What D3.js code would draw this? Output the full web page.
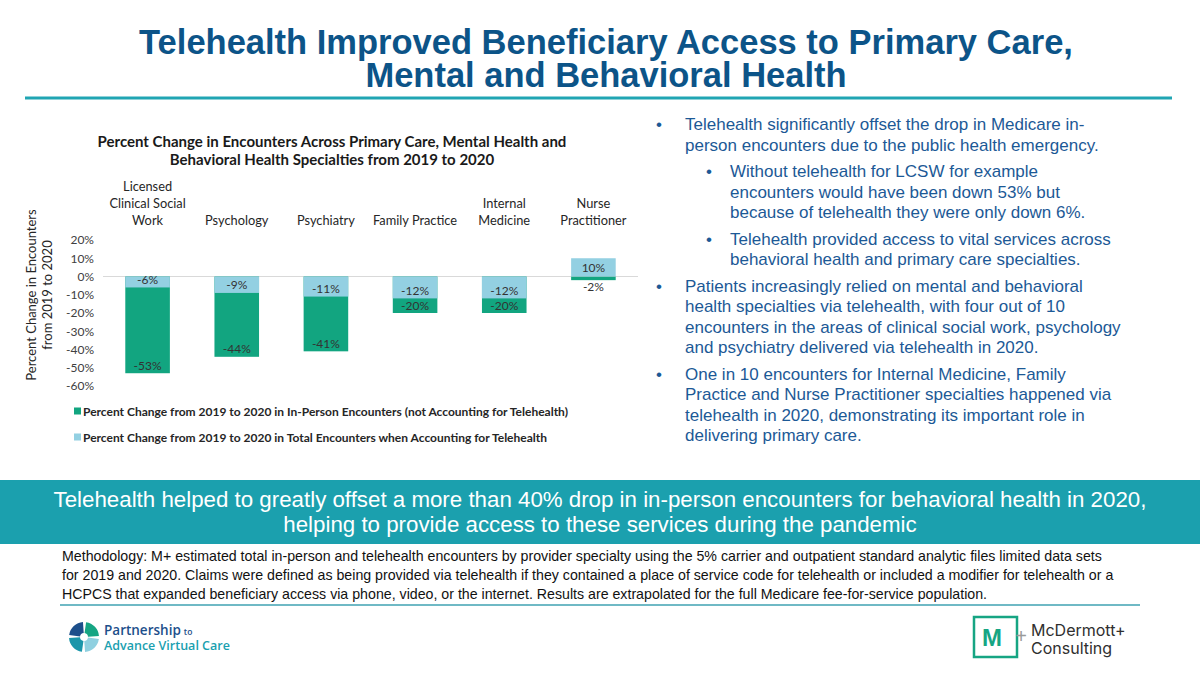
<!DOCTYPE html>
<html>
<head>
<meta charset="utf-8">
<style>
  body { margin: 0; background: #fff; }
  svg { display: block; }
</style>
<script src="https://cdn.jsdelivr.net/npm/d3@7"></script>
</head>
<body>
<svg id="slide" width="1200" height="675"></svg>
<script>
// ---- data ----
var categories = ["Licensed Clinical Social Work", "Psychology", "Psychiatry", "Family Practice", "Internal Medicine", "Nurse Practitioner"];
var categoryLines = [["Licensed", "Clinical Social", "Work"], ["Psychology"], ["Psychiatry"], ["Family Practice"], ["Internal", "Medicine"], ["Nurse", "Practitioner"]];
var inPerson = [-53, -44, -41, -20, -20, -2];   // in-person only
var totalEnc = [-6, -9, -11, -12, -12, 10];     // total incl. telehealth
var yTicks = [20, 10, 0, -10, -20, -30, -40, -50, -60];
var seriesNames = ["Percent Change from 2019 to 2020 in In-Person Encounters (not Accounting for Telehealth)",
                   "Percent Change from 2019 to 2020 in Total Encounters when Accounting for Telehealth"];

var titleLines = ["Telehealth Improved Beneficiary Access to Primary Care,", "Mental and Behavioral Health"];
var chartTitle = ["Percent Change in Encounters Across Primary Care, Mental Health and", "Behavioral Health Specialties from 2019 to 2020"];
var yLabel = ["Percent Change in Encounters", "from 2019 to 2020"];
var bullets = [
  {lvl: 0, lines: ["Telehealth significantly offset the drop in Medicare in-", "person encounters due to the public health emergency."]},
  {lvl: 1, lines: ["Without telehealth for LCSW for example", "encounters would have been down 53% but", "because of telehealth they were only down 6%."]},
  {lvl: 1, lines: ["Telehealth provided access to vital services across", "behavioral health and primary care specialties."]},
  {lvl: 0, lines: ["Patients increasingly relied on mental and behavioral", "health specialties via telehealth, with four out of 10", "encounters in the areas of clinical social work, psychology", "and psychiatry delivered via telehealth in 2020."]},
  {lvl: 0, lines: ["One in 10 encounters for Internal Medicine, Family", "Practice and Nurse Practitioner specialties happened via", "telehealth in 2020, demonstrating its important role in", "delivering primary care."]}
];
var banner = ["Telehealth helped to greatly offset a more than 40% drop in in-person encounters for behavioral health in 2020,", "helping to provide access to these services during the pandemic"];
var method = ["Methodology: M+ estimated total in-person and telehealth encounters by provider specialty using the 5% carrier and outpatient standard analytic files limited data sets",
              "for 2019 and 2020. Claims were defined as being provided via telehealth if they contained a place of service code for telehealth or included a modifier for telehealth or a",
              "HCPCS that expanded beneficiary access via phone, video, or the internet. Results are extrapolated for the full Medicare fee-for-service population."];

var navy = "#0c5488", teal = "#20a5b3", green = "#12a580", lblue = "#93d0e2";
var chartFont = "Lato, 'Open Sans', sans-serif";
var arial = "'Liberation Sans', Arial, sans-serif";

var svg = d3.select("#slide");

// multi-line text as one <text> with tspans
function lines(g, arr, x, y0, dy) {
  var t = g.append("text").attr("x", x).attr("y", y0);
  t.selectAll("tspan").data(arr).enter().append("tspan")
    .attr("x", x).attr("dy", function(d, i) { return i === 0 ? 0 : dy; })
    .text(function(d) { return d; });
  return t;
}

// ---- slide title ----
lines(svg, titleLines, 606, 54, 33)
  .attr("text-anchor", "middle")
  .attr("font-family", "'Liberation Sans Narrow', 'Arial Narrow', " + arial)
  .attr("font-weight", "bold").attr("font-size", 34.5).attr("fill", navy);

svg.append("line").attr("x1", 25).attr("x2", 1172).attr("y1", 98).attr("y2", 98)
  .attr("stroke", teal).attr("stroke-width", 3);

// ---- chart ----
var x = d3.scaleBand().domain(categories).range([103, 638]).paddingInner(0.5).paddingOuter(0.25);
var y = d3.scaleLinear().domain([-60, 20]).range([386, 240]);

lines(svg, chartTitle, 332, 147, 18)
  .attr("text-anchor", "middle").attr("font-family", chartFont)
  .attr("font-weight", "bold").attr("font-size", 15).attr("fill", "#1a1a1a");

// y axis (labels only)
var yAxis = svg.append("g").attr("transform", "translate(94,0)")
  .call(d3.axisLeft(y).tickValues(yTicks).tickSize(0).tickPadding(0)
    .tickFormat(function(d) { return d + "%"; }));
yAxis.select(".domain").remove();
yAxis.selectAll("text").attr("font-family", chartFont).attr("font-size", 12).attr("fill", "#404040");

// y axis title
var yl = svg.append("g").attr("transform", "translate(36,295) rotate(-90)");
lines(yl, yLabel, 0, 0, 16)
  .attr("text-anchor", "middle").attr("font-family", chartFont)
  .attr("font-size", 13).attr("fill", "#262626");

// category labels above plot
categories.forEach(function(c, i) {
  var ls = categoryLines[i];
  lines(svg, ls, x(c) + x.bandwidth() / 2, 225 - (ls.length - 1) * 17, 17)
    .attr("text-anchor", "middle").attr("font-family", chartFont)
    .attr("font-size", 12.8).attr("fill", "#262626");
});

// zero line
svg.append("line").attr("x1", 103).attr("x2", 638).attr("y1", y(0)).attr("y2", y(0))
  .attr("stroke", "#d9d9d9").attr("stroke-width", 1.2);

function barRect(sel, vals, color) {
  sel.data(vals).enter().append("rect")
    .attr("x", function(d, i) { return x(categories[i]); })
    .attr("width", x.bandwidth())
    .attr("y", function(d) { return Math.min(y(d), y(0)); })
    .attr("height", function(d) { return Math.abs(y(d) - y(0)); })
    .attr("fill", color);
}
barRect(svg.append("g").selectAll("rect"), inPerson, green);
barRect(svg.append("g").selectAll("rect"), totalEnc, lblue);

function barLabels(vals, outsideSmall) {
  svg.append("g").selectAll("text").data(vals).enter().append("text")
    .attr("x", function(d, i) { return x(categories[i]) + x.bandwidth() / 2; })
    .attr("y", function(d) {
      var h = Math.abs(y(d) - y(0));
      if (outsideSmall && h < 12) return y(d) + 11;      // too small: below the bar
      return d < 0 ? y(d) - 3.5 : y(d) + 14;
    })
    .attr("text-anchor", "middle").attr("font-family", chartFont)
    .attr("font-size", 12).attr("fill", "#333")
    .text(function(d) { return d + "%"; });
}
barLabels(inPerson, true);
barLabels(totalEnc, false);

// legend
var leg = svg.selectAll("g.leg").data(seriesNames).enter().append("g")
  .attr("class", "leg")
  .attr("transform", function(d, i) { return "translate(74," + (411 + i * 26) + ")"; });
leg.append("rect").attr("x", 0).attr("y", -3.5).attr("width", 7).attr("height", 7)
  .attr("fill", function(d, i) { return i === 0 ? green : lblue; });
leg.append("text").attr("x", 9).attr("y", 4.5)
  .attr("font-family", chartFont).attr("font-weight", "bold")
  .attr("font-size", 12).attr("fill", "#262626")
  .text(function(d) { return d; });

// ---- bullet text ----
var by = 130;
var bg = svg.append("g").attr("font-family", arial)
  .attr("font-size", 17).attr("fill", "#1c5996");
bullets.forEach(function(b, bi) {
  if (bi > 0) by += 6;
  var bx = b.lvl === 0 ? 656 : 706, tx = b.lvl === 0 ? 685 : 730;
  bg.append("text").attr("x", bx).attr("y", by).text("\u2022");
  lines(bg, b.lines, tx, by, 20.5);
  by += b.lines.length * 20.5;
});

// ---- banner ----
svg.append("rect").attr("x", 0).attr("y", 480).attr("width", 1200).attr("height", 64).attr("fill", "#1ba0ae");
lines(svg, banner, 600, 507, 25)
  .attr("text-anchor", "middle").attr("font-family", arial)
  .attr("font-size", 22.3).attr("fill", "#fff");

// ---- methodology ----
lines(svg, method, 62, 561, 19)
  .attr("font-family", arial)
  .attr("font-size", 14.2).attr("fill", "#111");
svg.append("line").attr("x1", 60).attr("x2", 1140).attr("y1", 605).attr("y2", 605)
  .attr("stroke", "#6fb9c5").attr("stroke-width", 2);

// ---- logos ----
var pl = svg.append("g").attr("transform", "translate(84,637)");
var petal = d3.arc().innerRadius(4).outerRadius(15);
[["#1d4f8b", -90], ["#16a583", 0], ["#8fd0e0", 90], ["#1b96aa", 180]].forEach(function(p) {
  pl.append("path")
    .attr("d", petal({startAngle: (p[1] + 8) * Math.PI / 180, endAngle: (p[1] + 86) * Math.PI / 180}))
    .attr("fill", p[0]);
});
var pText = svg.append("text").attr("x", 104).attr("y", 635)
  .attr("font-family", "'Open Sans', sans-serif").attr("font-weight", "600");
pText.append("tspan").attr("font-size", 13.5).attr("fill", "#1d4f8b").text("Partnership");
pText.append("tspan").attr("dx", 3).attr("font-size", 8.5).attr("fill", "#1d4f8b").text("to");
pText.append("tspan").attr("x", 104).attr("dy", 15).attr("font-size", 12.5).attr("fill", "#1a9fb0").text("Advance Virtual Care");

var mc = svg.append("g");
mc.append("rect").attr("x", 974).attr("y", 617).attr("width", 43).attr("height", 40)
  .attr("fill", "none").attr("stroke", "#16a583").attr("stroke-width", 2.5);
mc.append("text").attr("x", 992).attr("y", 646).attr("text-anchor", "middle")
  .attr("font-family", arial).attr("font-weight", "bold")
  .attr("font-size", 24).attr("fill", "#16a583").text("M");
mc.append("text").attr("x", 1021).attr("y", 643).attr("text-anchor", "middle")
  .attr("font-family", arial).attr("font-size", 20).attr("fill", "#9a9a9a").text("+");
lines(mc, ["McDermott+", "Consulting"], 1031, 636, 18)
  .attr("font-family", "Inter, 'Noto Sans', sans-serif")
  .attr("font-size", 16).attr("fill", "#2f2f2f");
</script>
</body>
</html>
